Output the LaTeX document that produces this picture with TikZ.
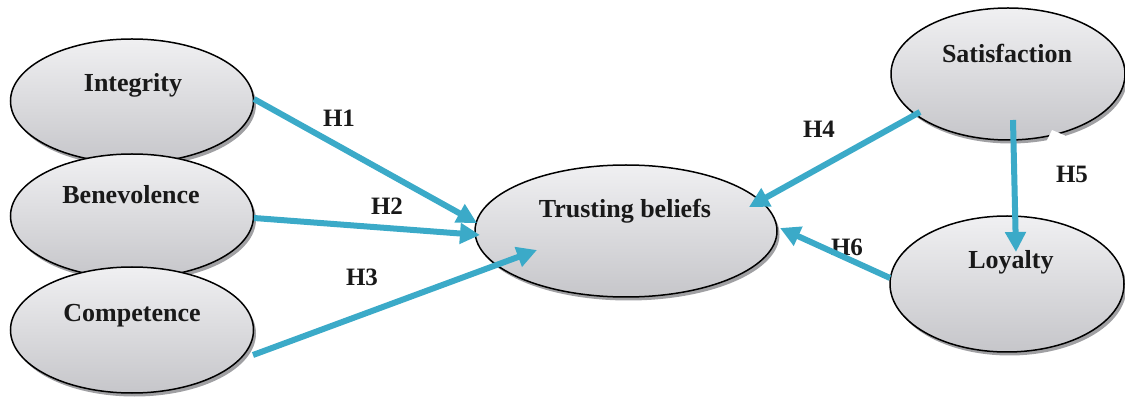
\documentclass[tikz,border=0pt]{standalone}
\usepackage{fontspec}
\setmainfont{Liberation Serif}
\usetikzlibrary{arrows.meta,shapes.geometric,shadows,calc}
\definecolor{teal1}{RGB}{59,170,200}
\definecolor{topgray}{RGB}{240,240,242}
\definecolor{botgray}{RGB}{198,198,202}
\definecolor{shadowgray}{RGB}{160,160,163}
\tikzset{
  oval/.style={ellipse, draw=black, line width=1.5pt, inner sep=0pt,
    top color=topgray, bottom color=botgray,
    drop shadow={shadow xshift=2.5pt, shadow yshift=-3.5pt, fill=shadowgray, opacity=1}},
  ovaltext/.style={anchor=base, font=\fontsize{26}{30}\selectfont\bfseries, text=black!90, inner sep=0pt},
  hlabel/.style={anchor=base, font=\fontsize{25}{30}\selectfont\bfseries, text=black!90, inner sep=0pt},
  hyp/.style={draw=teal1, line width=6pt, -{Triangle[length=20pt,width=20pt]}, fill=teal1}
}
\begin{document}
\begin{tikzpicture}[x=1pt,y=-1pt]
\useasboundingbox (0,0) rectangle (1125,403);
% ellipses
\node[oval, minimum width=243pt, minimum height=124pt] (integ) at (132,101) {};
\node[oval, minimum width=243pt, minimum height=124pt] (bene) at (132,216) {};
\node[oval, minimum width=243pt, minimum height=126pt] (comp) at (132,330) {};
\node[oval, minimum width=302pt, minimum height=132pt] (tb) at (626,231) {};
\node[oval, minimum width=234pt, minimum height=132pt] (sat) at (1008,74) {};
\node[oval, minimum width=234pt, minimum height=136pt] (loy) at (1007,284) {};
% notch
\fill[white] (1042,150) -- (1052,130) -- (1065,135.5) -- (1067,150) -- cycle;
% ellipse texts
\node[ovaltext] (tinteg) at (133,92) {Integrity};
\node[ovaltext] (tbene) at (131,204) {Benevolence};
\node[ovaltext] (tcomp) at (132,322) {Competence};
\node[ovaltext] (ttb) at (625,218) {Trusting beliefs};
\node[ovaltext] (tsat) at (1007,63) {Satisfaction};
\node[ovaltext] (tloy) at (1011,269) {Loyalty};
% hypothesis labels
\node[hlabel] (h1) at (339,127) {H1};
\node[hlabel] (h2) at (387,215) {H2};
\node[hlabel] (h3) at (362,286) {H3};
\node[hlabel] (h4) at (819,138) {H4};
\node[hlabel] (h5) at (1072,183) {H5};
\node[hlabel] (h6) at (847,256) {H6};
% arrows
\draw[hyp] ($(integ.center)+(122,-2)$) -- ($(tb.center)+(-149,-8)$);
\draw[hyp] ($(bene.center)+(122,2)$) -- ($(tb.center)+(-146,4)$);
\draw[hyp] ($(comp.center)+(121,25)$) -- ($(tb.center)+(-89,19)$);
\draw[hyp] ($(sat.center)+(-88,38)$) -- ($(tb.center)+(123,-24)$);
\draw[hyp] ($(sat.center)+(5,46)$) -- ($(loy.center)+(9,-32)$);
\draw[hyp] ($(loy.center)+(-117,-6)$) -- ($(tb.center)+(154,-3)$);
\end{tikzpicture}
\end{document}
